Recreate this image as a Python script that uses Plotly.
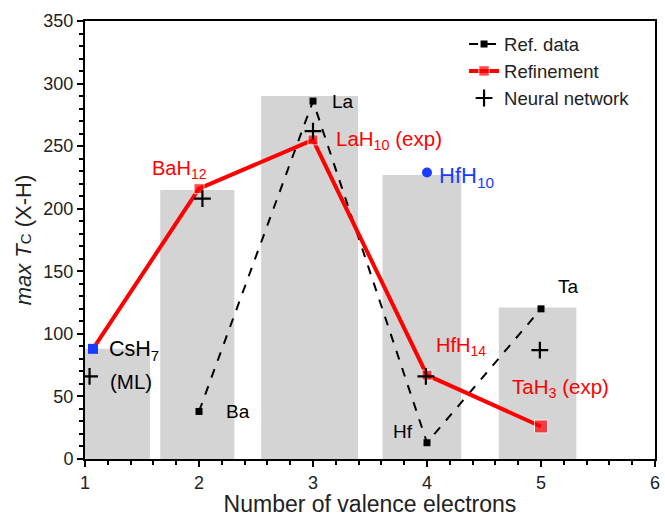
import plotly.graph_objects as go

# Gray background bars
bar_x = [1.0, 1.985, 2.97, 3.955, 4.97]
bar_w = [1.14, 0.65, 0.85, 0.69, 0.68]
bar_h = [88, 215, 290, 227, 121]

# Ref. data
ref_x = [2, 3, 4, 5]
ref_y = [38, 286, 13, 120]

# Refinement
ref2_x = [1.07, 2, 3, 4, 5]
ref2_y = [88, 216, 255, 67, 26]
ref2_sizes = [9, 10, 10, 10, 13]

# Neural network
nn_x = [1.04, 2.03, 3.0, 3.99, 4.99]
nn_y = [66, 208, 262, 66, 87]

# HfH10 point
hf10_x = [4.0]
hf10_y = [229]

FONT = "Liberation Sans, Arial, sans-serif"
BLUE = "#1a3cff"

fig = go.Figure()
fig.add_trace(go.Bar(x=bar_x, y=bar_h, width=bar_w, marker=dict(color="#d4d4d4", line=dict(width=0)),
                     showlegend=False, hoverinfo="skip"))
fig.add_trace(go.Scatter(x=ref_x, y=ref_y, mode="lines+markers", name="Ref. data",
                         line=dict(color="black", width=2, dash="dash"),
                         marker=dict(symbol="square", size=7, color="black")))
fig.add_trace(go.Scatter(x=ref2_x, y=ref2_y, mode="lines+markers", name="Refinement",
                         line=dict(color="#ff0000", width=4),
                         marker=dict(symbol="square", size=ref2_sizes, color="#ff0000")))
# CsH7 (ML) point drawn in blue on top of the refinement line start
fig.add_trace(go.Scatter(x=ref2_x[:1], y=ref2_y[:1], mode="markers", showlegend=False,
                         marker=dict(symbol="square", size=10, color=BLUE)))
fig.add_trace(go.Scatter(x=nn_x, y=nn_y, mode="markers", name="Neural network",
                         marker=dict(symbol="cross-thin", size=12, line=dict(color="black", width=2.2))))
fig.add_trace(go.Scatter(x=hf10_x, y=hf10_y, mode="markers", showlegend=False,
                         marker=dict(symbol="circle", size=10, color=BLUE)))

annots = [
    ("CsH<sub>7</sub>", 1.19, 87, "black", 21.5),
    ("(ML)", 1.2, 62, "black", 20.5),
    ("Ba", 2.22, 38, "black", 19),
    ("La", 3.15, 286, "black", 19),
    ("LaH<sub>10</sub> (exp)", 3.18, 255, "#ff0000", 20.5),
    ("BaH<sub>12</sub>", 1.57, 231, "#ff0000", 20),
    ("HfH<sub>10</sub>", 4.09, 225, BLUE, 22),
    ("HfH<sub>14</sub>", 4.06, 90, "#ff0000", 20),
    ("Ta", 5.13, 138, "black", 19),
    ("TaH<sub>3</sub> (exp)", 4.73, 57, "#ff0000", 20.5),
    ("Hf", 3.68, 22, "black", 19),
]
for t, x, y, c, s in annots:
    fig.add_annotation(x=x, y=y, text=t, showarrow=False, xanchor="left", yanchor="middle",
                       font=dict(color=c, size=s, family=FONT))

fig.update_layout(
    width=665, height=517,
    margin=dict(l=85, r=5, t=21, b=58),
    plot_bgcolor="white", paper_bgcolor="white",
    font=dict(family=FONT, size=18, color="#222"),
    barmode="overlay",
    legend=dict(x=0.665, y=0.99, xanchor="left", yanchor="top", bgcolor="rgba(0,0,0,0)",
                font=dict(size=18.5, family=FONT, color="#222"), tracegroupgap=2, itemwidth=30),
    xaxis=dict(range=[1, 6], dtick=1, showgrid=False, zeroline=False,
               showline=True, linecolor="black", linewidth=2, mirror=True,
               ticks="outside", ticklen=6, tickwidth=2, tickcolor="black",
               tickfont=dict(size=18, color="#222"),
               minor=dict(dtick=0.2, ticks="outside", ticklen=4, tickwidth=1.5, tickcolor="black"),
               title=dict(text="Number of valence electrons", font=dict(size=23, family=FONT, color="#222"), standoff=0)),
    yaxis=dict(range=[0, 350], dtick=50, showgrid=False, zeroline=False,
               showline=True, linecolor="black", linewidth=2, mirror=True,
               ticks="outside", ticklen=6, tickwidth=2, tickcolor="black",
               tickfont=dict(size=18, color="#222"),
               minor=dict(dtick=10, ticks="outside", ticklen=4, tickwidth=1.5, tickcolor="black"),
               title=dict(text="<i>max T</i><span style='font-size:15px'>C</span> (X-H)",
                          font=dict(size=22, family=FONT, color="#222"), standoff=6)),
)

fig.write_html("out.html")
